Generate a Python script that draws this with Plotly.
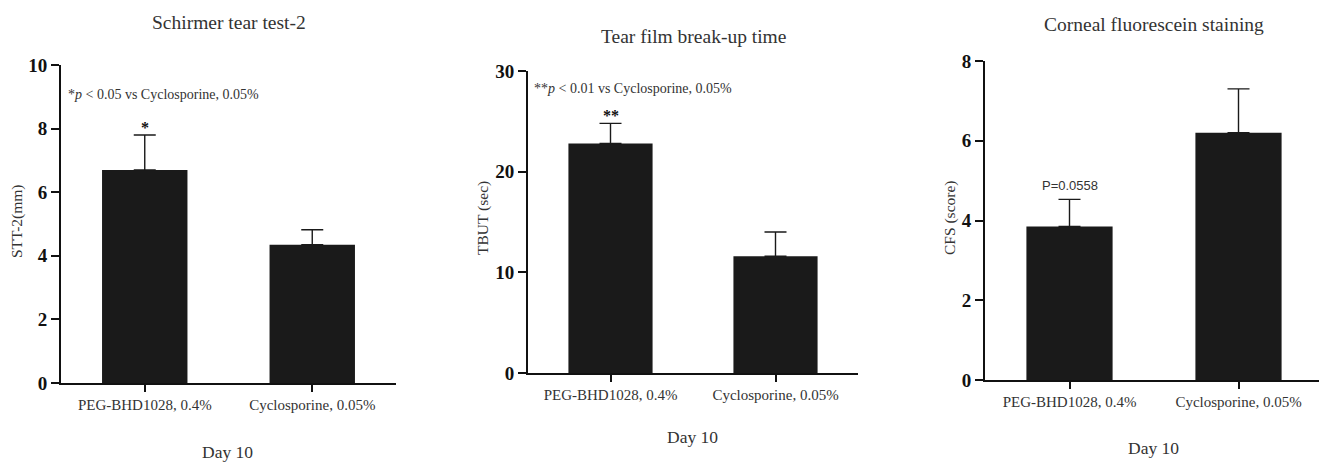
import plotly.graph_objects as go

# ---- data ----
groups = ["PEG-BHD1028, 0.4%", "Cyclosporine, 0.05%"]
stt2_mean = [6.7, 4.35]
stt2_err = [1.1, 0.47]
tbut_mean = [22.8, 11.6]
tbut_err = [2.0, 2.4]
cfs_mean = [3.85, 6.2]
cfs_err = [0.68, 1.1]

titles = ["Schirmer tear test-2", "Tear film break-up time", "Corneal fluorescein staining"]
ytitles = ["STT-2(mm)", "TBUT (sec)", "CFS (score)"]
xtitle = "Day 10"
yranges = [[0, 10], [0, 30], [0, 8]]
ydticks = [2, 10, 2]

# page has an 8px body margin: figure is drawn from (8, 8) in the window
OFF = 8
FW, FH = 1327 - OFF, 462 - OFF
SERIF = "Liberation Serif"
TXT = "#333333"


def px(x):
    return (x - OFF) / FW


def py(y):
    return 1 - (y - OFF) / FH


# window-pixel layout of each panel: (x_left, x_right, y_top, y_bottom)
boxes = [(61, 396, 65, 383), (528, 858, 71, 373), (985, 1323, 61, 380)]

means = [stt2_mean, tbut_mean, cfs_mean]
errs = [stt2_err, tbut_err, cfs_err]

fig = go.Figure()
for i in range(3):
    sfx = "" if i == 0 else str(i + 1)
    fig.add_trace(go.Bar(
        x=groups, y=means[i], width=0.51,
        marker=dict(color="#1a1a1a", line=dict(width=0)),
        error_y=dict(type="data", symmetric=False, array=errs[i], arrayminus=[0, 0],
                     color="#1a1a1a", thickness=1.4, width=11),
        xaxis="x" + sfx, yaxis="y" + sfx, showlegend=False,
    ))

layout = dict(
    width=FW, height=FH, margin=dict(l=0, r=0, t=0, b=0, pad=0, autoexpand=False),
    paper_bgcolor="white", plot_bgcolor="white", showlegend=False,
)
annotations = []
for i, (xl, xr, yt, yb) in enumerate(boxes):
    sfx = "" if i == 0 else str(i + 1)
    layout["xaxis" + sfx] = dict(
        domain=[px(xl), px(xr)], anchor="y" + sfx, range=[-0.5, 1.5], type="category",
        showline=True, linecolor="#111", linewidth=2, showgrid=False, zeroline=False,
        ticks="outside", ticklen=7, tickwidth=2, tickcolor="#111", automargin=False,
        tickfont=dict(family=SERIF, size=15, color=TXT),
    )
    layout["yaxis" + sfx] = dict(
        domain=[py(yb), py(yt)], anchor="x" + sfx, range=yranges[i], dtick=ydticks[i],
        showline=True, linecolor="#111", linewidth=2, showgrid=False, zeroline=False,
        ticks="outside", ticklen=8, tickwidth=2, tickcolor="#111", automargin=False,
        tickfont=dict(family=SERIF, size=19, color="#111", weight="bold"),
    )
    cx = (xl + xr) / 2
    ty = [22, 36, 24][i]
    annotations.append(dict(text=titles[i], xref="paper", yref="paper", x=px(cx),
                            y=py(ty), showarrow=False, xanchor="center", yanchor="middle",
                            font=dict(family=SERIF, size=19.5, color=TXT)))
    dy = [452, 437, 448][i]
    annotations.append(dict(text=xtitle, xref="paper", yref="paper", x=px(cx - 1),
                            y=py(dy), showarrow=False, xanchor="center", yanchor="middle",
                            font=dict(family=SERIF, size=17.5, color=TXT)))
    yx = [17, 483, 950][i]
    yc = [222, 218, 218][i]
    annotations.append(dict(text=ytitles[i], xref="paper", yref="paper", x=px(yx),
                            y=py(yc), showarrow=False, textangle=-90,
                            xanchor="center", yanchor="middle",
                            font=dict(family=SERIF, size=15.5, color=TXT)))

annotations.append(dict(text="*<i>p</i> < 0.05 vs Cyclosporine, 0.05%", xref="paper", yref="paper",
                        x=px(66), y=py(94), showarrow=False, xanchor="left", yanchor="middle",
                        font=dict(family=SERIF, size=14, color=TXT)))
annotations.append(dict(text="**<i>p</i> < 0.01 vs Cyclosporine, 0.05%", xref="paper", yref="paper",
                        x=px(532), y=py(88), showarrow=False, xanchor="left", yanchor="middle",
                        font=dict(family=SERIF, size=14, color=TXT)))
annotations.append(dict(text="*", xref="x", yref="y", x=groups[0], y=stt2_mean[0] + stt2_err[0],
                        yshift=-3, showarrow=False, xanchor="center", yanchor="bottom",
                        font=dict(family=SERIF, size=16, color="#111", weight="bold")))
annotations.append(dict(text="**", xref="x2", yref="y2", x=groups[0], y=tbut_mean[0] + tbut_err[0],
                        yshift=-3, showarrow=False, xanchor="center", yanchor="bottom",
                        font=dict(family=SERIF, size=16, color="#111", weight="bold")))
annotations.append(dict(text="P=0.0558", xref="x3", yref="y3", x=groups[0], y=cfs_mean[0] + cfs_err[0],
                        yshift=4, showarrow=False, xanchor="center", yanchor="bottom",
                        font=dict(family="Liberation Sans", size=13, color=TXT)))
layout["annotations"] = annotations
fig.update_layout(**layout)
fig.write_html("out.html")
